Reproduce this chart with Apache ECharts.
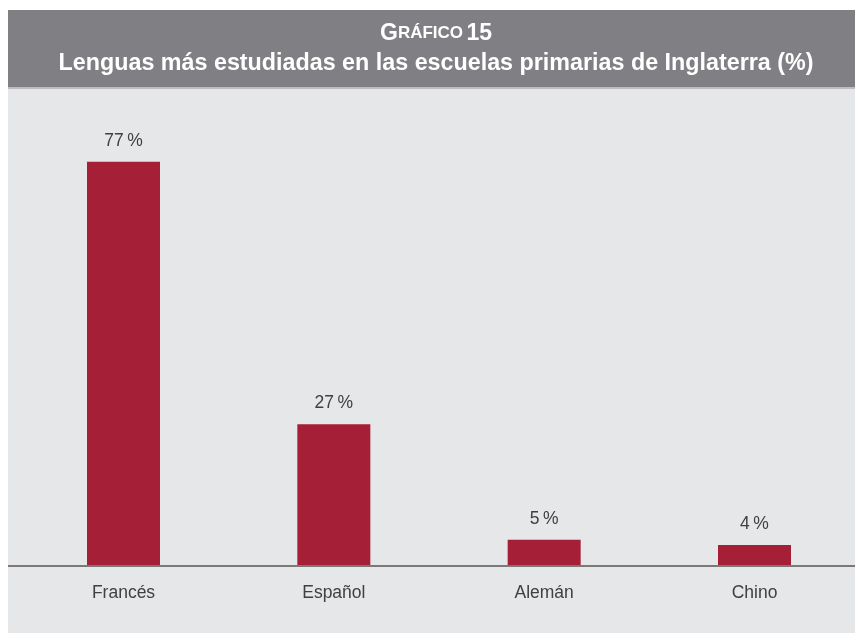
<!DOCTYPE html>
<html><head><meta charset="utf-8">
<script src="https://cdn.jsdelivr.net/npm/echarts@6/dist/echarts.min.js"></script>
<style>html,body{margin:0;padding:0;background:#fff}#c{width:855px;height:636px}</style>
</head><body><div id="c"></div>
<script>
const categories = ['Francés', 'Español', 'Alemán', 'Chino'];
const values = [77, 27, 5, 4];
const titleLine1 = 'GRÁFICO 15';
const titleLine2 = 'Lenguas más estudiadas en las escuelas primarias de Inglaterra (%)';

const chart = echarts.init(document.getElementById('c'), null, {renderer: 'canvas'});
const FONT = '"Liberation Sans", Arial, sans-serif';
chart.setOption({
  animation: false,
  backgroundColor: '#ffffff',
  graphic: [
    {type: 'rect', z: -10, shape: {x: 8, y: 10, width: 847, height: 77}, style: {fill: '#808084'}},
    {type: 'rect', z: -10, shape: {x: 8, y: 87, width: 847, height: 2}, style: {fill: '#bdbdc0'}},
    {type: 'rect', z: -10, shape: {x: 8, y: 89, width: 847, height: 544}, style: {fill: '#e6e7e9'}},
    {type: 'line', z: 5, shape: {x1: 8, y1: 566, x2: 855, y2: 566}, style: {stroke: '#7a7878', lineWidth: 2}},
    {type: 'text', x: 436, y: 22, z: 10, style: {
      text: '{a|G}{b|RÁFICO} {a|15}', textAlign: 'center',
      rich: {
        a: {fontFamily: FONT, fontSize: 23, fontWeight: 'bold', fill: '#ffffff'},
        b: {fontFamily: FONT, fontSize: 17, fontWeight: 'bold', fill: '#ffffff'}
      }
    }},
    {type: 'text', x: 436, y: 52, z: 10, style: {
      text: titleLine2, textAlign: 'center', fontFamily: FONT, fontSize: 23.3, fontWeight: 'bold', fill: '#ffffff'
    }}
  ],
  grid: {left: 123.5, width: 631, top: 146, bottom: 70, containLabel: false},
  xAxis: {
    type: 'category', data: categories, boundaryGap: false,
    axisLine: {show: false}, axisTick: {show: false},
    axisLabel: {fontFamily: FONT, fontSize: 17.5, color: '#404040', margin: 18}
  },
  yAxis: {type: 'value', min: 0, max: 80, show: false, splitLine: {show: false}},
  series: [{
    type: 'bar', data: values, barWidth: 73,
    itemStyle: {color: '#a51f36'},
    label: {show: true, position: 'top', distance: 12, formatter: p => p.value + '\u2009%',
      fontFamily: FONT, fontSize: 17.5, color: '#404040'}
  }]
});
</script></body></html>
